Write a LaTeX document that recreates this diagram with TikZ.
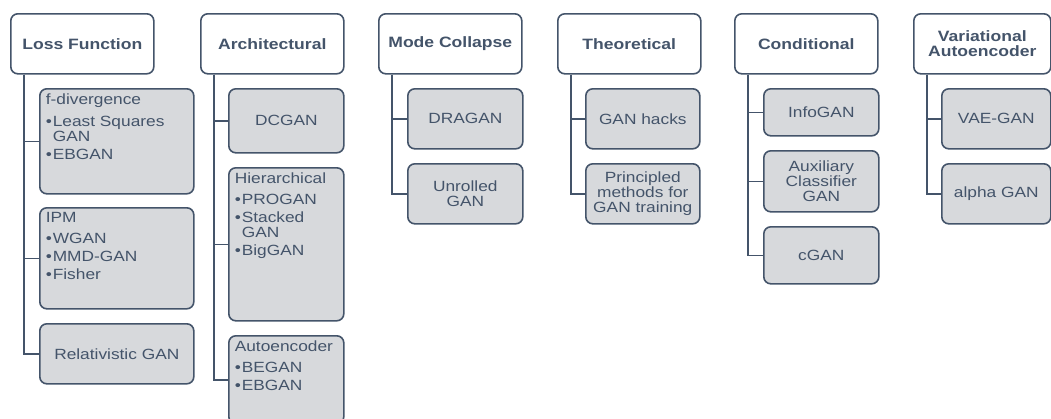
\documentclass[tikz,border=0pt]{standalone}
\usepackage{fontspec}
\setmainfont{Liberation Sans}[FakeStretch=1.17]

\definecolor{slate}{HTML}{44546A}
\definecolor{leafgray}{HTML}{D7D9DC}

\tikzset{
	head/.style={draw=slate, line width=1.6pt, rounded corners=7pt, fill=white, text=slate,
		font=\fontsize{15}{15}\selectfont\bfseries, align=center,
		minimum width=143pt, minimum height=60pt, anchor=north west, inner sep=1pt},
	leaf/.style={draw=slate, line width=1.6pt, rounded corners=7pt, fill=leafgray, text=slate,
		font=\fontsize{14.8}{15}\selectfont, align=center,
		minimum width=115pt, minimum height=60pt, anchor=north west, inner sep=1pt},
	link/.style={draw=slate, line width=1.6pt},
}

% box with text at the top
\newcommand\toplist[3]{\parbox[c][#1][t]{#2}{\raggedright\vspace*{5pt}#3}}
\newcommand\itm[1]{\par\vspace{3pt}\hangindent=7pt\hangafter=1\noindent\makebox[7pt][l]{\textbullet}#1}

\begin{document}
\begin{tikzpicture}[x=1pt,y=-1pt]
			\useasboundingbox (0,0) rectangle (1051,418);
			\clip (0,0) rectangle (1051,418);
			% headers
			\node[head] (loss) at (10,13) {Loss Function};
			\node[head] (arch) at (200,13) {Architectural};
			\node[head] (mode) at (378,13) {Mode Collapse};
			\node[head] (theo) at (557,13) {Theoretical};
			\node[head] (cond) at (734,13) {Conditional};
			\node[head, minimum width=137pt] (vae) at (913,13) {Variational\\Autoencoder};
			% loss function
			\node[leaf, minimum width=154pt, minimum height=0pt, inner sep=0pt] (fdiv) at (39,88)
				{\toplist{105pt}{142pt}{f-divergence\par\vspace{4pt}\itm{Least Squares\newline GAN}\itm{EBGAN}}};
			\node[leaf, minimum width=154pt, minimum height=0pt, inner sep=0pt] (ipm) at (39,207)
				{\toplist{101pt}{142pt}{IPM\par\vspace{3pt}\itm{WGAN}\itm{MMD-GAN}\itm{Fisher}}};
			\node[leaf, minimum width=154pt] (rel) at (39,323) {Relativistic GAN};
			% architectural
			\node[leaf, minimum height=64pt] (dcgan) at (228,88) {DCGAN};
			\node[leaf, minimum height=0pt, inner sep=0pt] (hier) at (228,167)
				{\toplist{153pt}{103pt}{Hierarchical\par\vspace{3pt}\itm{PROGAN}\itm{Stacked\newline GAN}\itm{BigGAN}}};
			\node[leaf, minimum height=0pt, inner sep=0pt] (auto) at (228,335)
				{\toplist{88pt}{103pt}{Autoencoder\par\vspace{3pt}\itm{BEGAN}\itm{EBGAN}}};
			% mode collapse
			\node[leaf] (dragan) at (407,88) {DRAGAN};
			\node[leaf] (unroll) at (407,163) {Unrolled\\GAN};
			% theoretical
			\node[leaf, minimum width=114pt] (hacks) at (585,88) {GAN hacks};
			\node[leaf, minimum width=114pt] (princ) at (585,163) {Principled\\methods for\\GAN training};
			% conditional
			\node[leaf, minimum height=47pt] (info) at (763,88) {InfoGAN};
			\node[leaf, minimum height=61pt] (aux) at (763,150) {Auxiliary\\Classifier\\GAN};
			\node[leaf, minimum height=57pt] (cgan) at (763,226) {cGAN};
			% variational autoencoder
			\node[leaf, minimum width=109pt] (vaegan) at (941,88) {VAE-GAN};
			\node[leaf, minimum width=109pt] (alpha) at (941,163) {alpha GAN};
			% links
			\foreach \h/\c in {loss/fdiv, loss/ipm, loss/rel, arch/dcgan, arch/hier, arch/auto,
				mode/dragan, mode/unroll, theo/hacks, theo/princ, cond/info, cond/aux, cond/cgan,
				vae/vaegan, vae/alpha}
				\draw[link] ([xshift=14pt]\h.south west) |- (\c.west);
		\end{tikzpicture}
\end{document}
